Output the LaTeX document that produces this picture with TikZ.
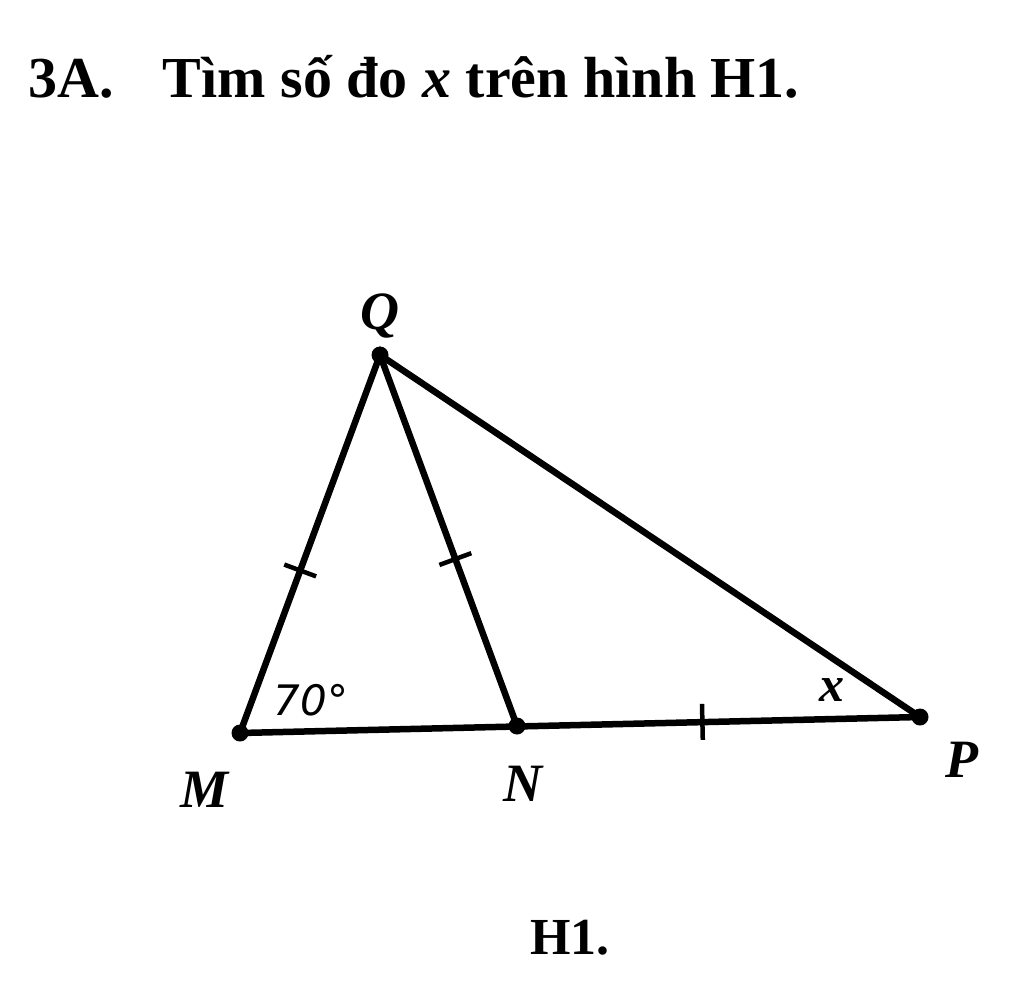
\documentclass[tikz,border=0pt]{standalone}
\usepackage{fontspec}
\setmainfont{Liberation Serif}
\setsansfont{DejaVu Sans}
\usetikzlibrary{calc}
\begin{document}
\begin{tikzpicture}[x=1pt,y=-1pt,
  seg/.style={line width=6.5pt,line cap=round},
  tick/.style={line width=4.5pt},
  dot/.style={circle,fill=black,inner sep=0pt,minimum size=17pt},
  lbl/.style={font=\fontsize{54}{58}\selectfont\bfseries\itshape,inner sep=0pt}]
\useasboundingbox (0,0) rectangle (1024,983);
\node[anchor=base west,inner sep=0pt,font=\fontsize{58}{64}\selectfont\bfseries] (title) at (28,97) {3A.\hspace{0.85em}Tìm số đo \textit{x} trên hình H1.};
\node[dot] (M) at (240,733) {};
\node[dot] (N) at (517,726) {};
\node[dot] (P) at (920,717) {};
\node[dot] (Q) at (380,355) {};
\draw[seg] (M.center) -- (Q.center) -- (N.center);
\draw[seg] (Q.center) -- (P.center);
\draw[seg] (M.center) -- (P.center);
% ticks
\coordinate (t1) at ($(M.center)!0.43!(Q.center)$);
\draw[tick] ($(t1)!17pt!90:(Q.center)$) -- ($(t1)!17pt!-90:(Q.center)$);
\coordinate (t2) at ($(N.center)!0.45!(Q.center)$);
\draw[tick] ($(t2)!17pt!90:(Q.center)$) -- ($(t2)!17pt!-90:(Q.center)$);
\coordinate (t3) at ($(N.center)!0.46!(P.center)$);
\draw[tick] ($(t3)!18pt!90:(P.center)$) -- ($(t3)!18pt!-90:(P.center)$);
% labels
\node[lbl] (lQ) at (380,316) {Q};
\node[lbl] (lM) at (205,790) {M};
\node[lbl] (lN) at (523,784) {N};
\node[lbl] (lP) at (962,760) {P};
\node[inner sep=0pt,font=\fontsize{42}{46}\sffamily\itshape] (a70) at (311,700) {70°};
\node[inner sep=0pt,font=\fontsize{50}{54}\selectfont\bfseries\itshape] (ax) at (832,690) {x};
\node[inner sep=0pt,font=\fontsize{52}{56}\selectfont\bfseries] (h1) at (570,938) {H1.};
\end{tikzpicture}
\end{document}
